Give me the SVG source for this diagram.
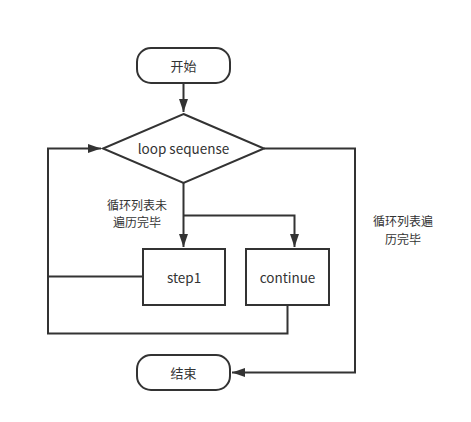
<svg xmlns="http://www.w3.org/2000/svg" width="471" height="422" viewBox="0 0 471 422">
<defs>
<marker id="ah" markerWidth="14" markerHeight="10" refX="13" refY="5" orient="auto" markerUnits="userSpaceOnUse">
<path d="M0,0.5 L13,5 L0,9.5 Z" fill="#333"/>
</marker>
</defs>
<style>
.shape{fill:#fff;stroke:#333;stroke-width:2}
.line{fill:none;stroke:#333;stroke-width:2}
text{font-family:"Noto Sans CJK SC","Noto Sans",sans-serif;font-size:13px;fill:#333;text-anchor:middle;dominant-baseline:central}
.lat{font-size:13.5px}
.lbl{font-size:12px}
</style>
<rect width="471" height="422" fill="#fff"/>
<g id="connectors">
<path class="line" d="M183.5,83 V112" marker-end="url(#ah)"/>
<path class="line" d="M183.5,183 V247" marker-end="url(#ah)"/>
<path class="line" d="M183.5,215.5 H294.5 V247" marker-end="url(#ah)"/>
<path class="line" d="M142,276.5 H48 V148.5 H101" marker-end="url(#ah)"/>
<path class="line" d="M287.5,305 V333.5 H48 V276.5"/>
<path class="line" d="M264,148.5 H355 V372.5 H232" marker-end="url(#ah)"/>
</g>
<g id="start">
<rect class="shape" x="137" y="48" width="93" height="35" rx="14"/>
<text x="183.5" y="65.5">开始</text>
</g>
<g id="loop">
<polygon class="shape" points="183.5,114 264,148.5 183.5,183 103,148.5"/>
<text class="lat" x="183.5" y="148">loop sequense</text>
</g>
<g id="step1">
<rect class="shape" x="143" y="249" width="82" height="56"/>
<text class="lat" x="184" y="276.5">step1</text>
</g>
<g id="continue">
<rect class="shape" x="246" y="249" width="83" height="56"/>
<text class="lat" x="287.5" y="276.5">continue</text>
</g>
<g id="end">
<rect class="shape" x="137" y="355" width="93" height="35" rx="14"/>
<text x="183.5" y="372.5">结束</text>
</g>
<g id="labels">
<text class="lbl" x="137" y="204">循环列表未</text>
<text class="lbl" x="137" y="221.5">遍历完毕</text>
<text class="lbl" x="403" y="220.5">循环列表遍</text>
<text class="lbl" x="403" y="238">历完毕</text>
</g>
</svg>
